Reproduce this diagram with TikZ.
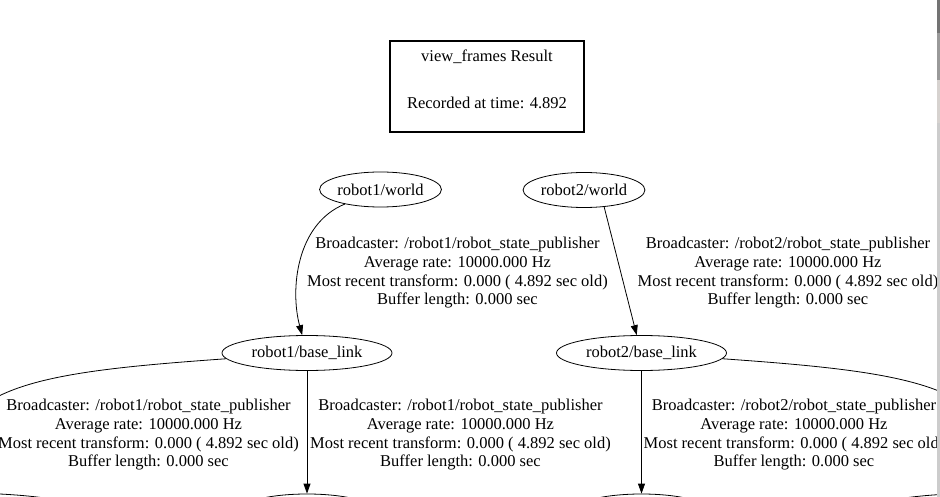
\documentclass[tikz,border=0pt]{standalone}
\usepackage{fontspec}
\setmainfont{Liberation Serif}
\usetikzlibrary{arrows.meta, shapes.geometric}

\newcommand{\tfinfo}[1]{Broadcaster: /#1/robot\_state\_publisher\\Average rate: 10000.000 Hz\\Most recent transform: 0.000 ( 4.892 sec old)\\Buffer length: 0.000 sec}

\begin{document}
\begin{tikzpicture}[
    x=1pt, y=-1pt,
    every node/.style={font=\fontsize{16.5}{18.7}\selectfont},
    % tf frames as graphviz ellipses
    framenode/.style={draw, ellipse, line width=0.8pt, inner sep=0pt,
                      minimum width=170pt, minimum height=35pt},
    worldnode/.style={framenode, minimum width=113pt},
    % heading box with thick border
    resultbox/.style={draw, line width=2pt, minimum width=194pt, minimum height=91pt},
    tfinfo/.style={align=center, inner sep=0pt},
    edge/.style={-{Triangle[length=10pt, width=7pt]}, line width=0.8pt}
]
\useasboundingbox (0,0) rectangle (940,497);
\clip (0,0) rectangle (940,497);

\node[resultbox] (result) at (487,86.5) {};
\node (resulthead) at (487,57) {view\_frames Result};
\node (resulttime) at (487,103) {Recorded at time: 4.892};

\node[worldnode] (world1) at (380.5,189.5) {robot1/world};
\node[worldnode] (world2) at (584,190) {robot2/world};

\node[framenode] (base1) at (307,353) {robot1/base\_link};
\node[framenode] (base2) at (641.5,353) {robot2/base\_link};

% child frames, cut off by the lower edge
\node[framenode, minimum width=248pt, minimum height=36pt] (child1) at (-41,511) {};
\node[framenode, minimum width=140pt, minimum height=36pt] (child2) at (307,512) {};
\node[framenode, minimum width=140pt, minimum height=36pt] (child3) at (641.5,512) {};
\node[framenode, minimum width=248pt, minimum height=36pt] (child4) at (990,511) {};

\draw[edge] (world1) .. controls (296,224) and (290,290) .. (base1);
\draw[edge] (world2.-40) -- (base2.105);
\draw[edge] (base1) .. controls (40,372) and (-60,385) .. (child1);
\draw[edge] (base1) -- (child2);
\draw[edge] (base2) -- (child3);
\draw[edge] (base2) .. controls (909,372) and (1009,385) .. (child4);

\node[tfinfo] (info1) at (457.5,273) {\tfinfo{robot1}};
\node[tfinfo] (info2) at (788,273) {\tfinfo{robot2}};
\node[tfinfo] (info3) at (148.5,435) {\tfinfo{robot1}};
\node[tfinfo] (info4) at (460.5,435) {\tfinfo{robot1}};
\node[tfinfo] (info5) at (794,435) {\tfinfo{robot2}};

% viewer scrollbar strip on the right
\fill[black!20] (937,0) rectangle (940,497);
\fill[black!55] (937,0) rectangle (940,33);
\fill[black!40] (937,33) rectangle (940,80);
\fill[brown!25!black!20] (937,80) rectangle (940,123);
\end{tikzpicture}
\end{document}
